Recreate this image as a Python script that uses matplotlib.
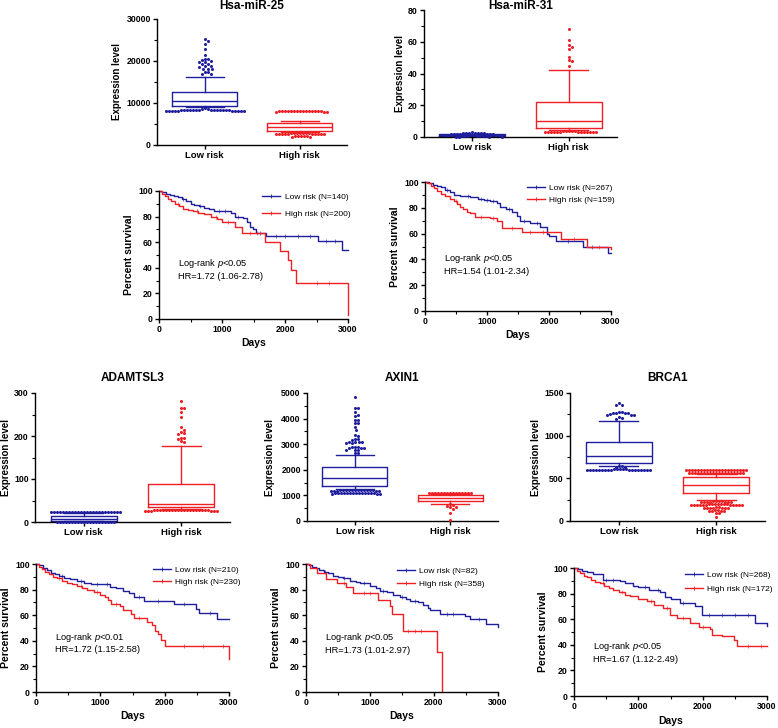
import numpy as np
import matplotlib
matplotlib.use('Agg')
import matplotlib.pyplot as plt
from matplotlib.ticker import MultipleLocator
from matplotlib.lines import Line2D

plt.rcParams['font.family'] = ['Liberation Sans', 'DejaVu Sans']
plt.rcParams['font.weight'] = 'bold'
plt.rcParams['axes.labelweight'] = 'bold'
plt.rcParams['mathtext.fontset'] = 'custom'
plt.rcParams['mathtext.rm'] = 'Liberation Sans:weight=normal'
plt.rcParams['mathtext.it'] = 'Liberation Sans:style=italic:weight=normal'

BLUE = '#1f1f9e'
RED = '#ee2024'

groups = ['Low risk', 'High risk']

# ---- box plot data (10-90 percentile whiskers, points beyond) ----
mir25_low = dict(whislo=8950, q1=9300, med=10500, q3=12500, whishi=16100)
mir25_high = dict(whislo=3150, q1=3400, med=4400, q3=5300, whishi=5800)
mir25_low_pts = [25200, 24700, 24000, 22900, 21400, 20500, 20400, 20300, 19900, 19800, 19700,
                 19300, 19200, 18800, 18700, 18600, 18200, 18100, 18000, 17400, 17300, 16900,
                 16800,
                 8700, 8650, 8600,
                 8450, 8430, 8410, 8400, 8380, 8360, 8350, 8330, 8310, 8300, 8280, 8260, 8250,
                 8230, 8210, 8200, 8180, 8170, 8160, 8150, 8140, 8130, 8120, 8110]
mir25_high_pts = [8120, 8110, 8100, 8090, 8080, 8070, 8060, 8050, 8040, 8030, 8020, 8010,
                  8000, 7990, 7980, 7970, 7960, 7950,
                  2800, 2790, 2780, 2770, 2760, 2750, 2740, 2730, 2720, 2710, 2700, 2690,
                  2680, 2670, 2660, 2650, 2640,
                  2150, 2120, 2100, 2080, 2050, 2020, 2000]

mir31_low = dict(whislo=0.5, q1=0.8, med=1.2, q3=1.6, whishi=2.0)
mir31_high = dict(whislo=4.2, q1=5.5, med=10.3, q3=22.0, whishi=42.5)
mir31_low_pts = [2.9, 2.8, 2.7, 2.7, 2.6, 2.5, 2.4, 2.3, 2.2, 2.1, 2.0, 1.9, 1.8, 1.7, 1.6,
                 1.5, 1.4, 1.3, 1.2, 1.1, 1.0, 0.9, 0.8, 0.7, 0.6, 0.5, 0.4, 0.4, 0.3, 0.2,
                 0.2, 0.1]
mir31_high_pts = [68, 61, 58, 56.5, 55.5, 50.5, 48.5, 48, 44.5,
                  3.6, 3.6, 3.5, 3.5, 3.5, 3.4, 3.4, 3.4, 3.3, 3.3, 3.3, 3.2, 3.2, 3.2, 3.1,
                  3.1, 3.0, 3.0]

adam_low = dict(whislo=1.5, q1=3, med=8, q3=15, whishi=21)
adam_high = dict(whislo=30, q1=34, med=42, q3=88, whishi=177)
adam_low_pts = [24.4, 24.3, 24.2, 24.1, 24.0, 23.9, 23.8, 23.7, 23.6, 23.5, 23.4, 23.3, 23.2,
                23.1, 23.0, 22.9, 22.8, 22.7, 22.6, 22.5, 22.4, 22.3, 22.2, 22.1,
                1.0, 1.0, 0.9, 0.9, 0.8, 0.8, 0.7, 0.7, 0.6, 0.6, 0.5, 0.5, 0.4, 0.4, 0.3,
                0.3, 0.2, 0.2, 0.1, 0.1]
adam_high_pts = [281, 266, 265, 255, 245, 221, 215, 209, 207, 204, 196, 195, 194, 188, 187,
                 28.6, 28.5, 28.4, 28.3, 28.2, 28.1, 28.0, 27.9, 27.8, 27.7, 27.6, 27.5, 27.4,
                 27.3, 27.2, 27.1, 27.0, 26.9, 26.8, 26.7, 26.6, 26.5, 26.4, 26.3, 26.2]

axin_low = dict(whislo=1250, q1=1370, med=1690, q3=2120, whishi=2590)
axin_high = dict(whislo=660, q1=770, med=885, q3=1030, whishi=1060)
axin_low_pts = [4850, 4420, 4400, 4240, 4150, 4100, 3960, 3950, 3840, 3820, 3660, 3550, 3350,
                3330, 3220, 3200, 3180, 3100, 3090, 3080, 3070, 3060, 3050, 2900, 2890, 2880,
                2870, 2860, 2850, 2790, 2780, 2770, 2650, 2640,
                1215, 1213, 1211, 1209, 1207, 1205, 1203, 1201, 1199, 1197, 1195, 1193, 1191,
                1189, 1187, 1185, 1183,
                1102, 1100, 1098, 1096, 1094, 1092, 1090, 1088, 1086, 1084, 1082, 1080, 1078,
                1076, 1074, 1072, 1070]
axin_high_pts = [1104, 1103, 1102, 1101, 1100, 1099, 1098, 1097, 1096, 1095, 1094, 1093, 1092,
                 1091, 1090, 650, 630, 600, 560, 530, 470, 300, 30]

brca_low = dict(whislo=650, q1=684, med=766, q3=926, whishi=1172)
brca_high = dict(whislo=246, q1=325, med=420, q3=512, whishi=547)
brca_low_pts = [1385, 1365, 1362, 1275, 1273, 1271, 1270, 1268, 1266, 1250, 1248, 1246, 1244,
                1215, 1212, 1195,
                640, 639, 638, 637,
                606, 605, 605, 604, 604, 603, 603, 602, 602, 601, 601, 600, 600, 599, 599,
                598, 598, 597, 597, 596, 596, 595]
brca_high_pts = [602, 601, 601, 600, 600, 599, 599, 598, 598, 597, 597, 596, 596, 595, 595,
                 594, 594, 593, 593, 592, 592,
                 566, 565, 565, 564, 564, 563, 563, 562, 562, 561, 561, 560, 560, 559, 559,
                 558, 558, 557, 557,
                 230, 230, 229, 229, 228, 228, 228, 227, 227, 226, 226,
                 196, 196, 195, 195, 194, 194, 194, 193, 193, 192, 192, 191, 191, 190, 190,
                 189, 189, 188,
                 159, 159, 158, 158, 158, 157, 157, 156, 156,
                 124, 124, 123, 123, 122, 122,
                 90, 88, 45]

# ---- Kaplan-Meier data (days, percent survival after each step) ----
k1_low_t = [0, 50, 110, 170, 240, 300, 360, 430, 500, 560, 640, 720, 800, 870, 1150, 1200,
            1340, 1400, 1450, 1490, 1540, 1700, 2520, 2900, 3000]
k1_low_s = [100, 99, 98, 97, 96, 95, 94, 92, 90, 89, 88, 87, 86, 84, 83, 80,
            79, 76, 72, 70, 67, 65, 61, 54, 54]
k1_high_t = [0, 40, 90, 140, 190, 250, 310, 380, 460, 540, 620, 720, 820, 920, 1000, 1200,
             1310, 1690, 1920, 2040, 2090, 2180, 3000]
k1_high_s = [100, 98, 96, 94, 92, 90, 88, 86, 85, 84, 83, 82, 80, 78, 76, 72,
             67, 60, 53, 46, 38, 28, 3]

k2_low_t = [0, 60, 130, 200, 260, 330, 400, 460, 560, 730, 850, 950, 1050, 1160, 1210, 1300,
            1400, 1480, 1530, 1700, 1860, 1960, 2000, 2120, 2550, 2950, 3000]
k2_low_s = [100, 99, 98, 97, 96, 94, 92, 90, 89, 88, 87, 86, 85, 84, 81, 79,
            77, 74, 70, 68, 65, 60, 58, 54, 50, 45, 45]
k2_high_t = [0, 40, 90, 140, 190, 250, 320, 400, 460, 510, 570, 620, 680, 730, 800, 1050,
             1160, 1240, 1560, 2200, 2620, 3000]
k2_high_s = [100, 99, 97, 95, 93, 91, 89, 87, 85, 83, 81, 79, 77, 76, 73, 72,
             70, 64, 61, 56, 50, 48]

k3_low_t = [0, 50, 110, 170, 230, 290, 360, 440, 530, 640, 740, 850, 1000, 1150, 1250, 1360,
            1450, 1520, 1680, 2140, 2480, 2530, 2820, 3000]
k3_low_s = [100, 99, 97, 95, 93, 92, 91, 89, 88, 87, 85, 84, 84, 82, 81, 79,
            77, 74, 71, 69, 65, 62, 57, 57]
k3_high_t = [0, 40, 90, 140, 200, 260, 320, 400, 480, 560, 640, 720, 800, 900, 1000, 1080,
             1120, 1160, 1300, 1360, 1480, 1520, 1720, 1800, 1850, 1900, 1950, 2010, 3000]
k3_high_s = [100, 98, 96, 94, 92, 90, 89, 87, 85, 84, 83, 81, 80, 78, 76, 74,
             72, 69, 67, 64, 61, 58, 55, 52, 48, 45, 41, 36, 26]

k4_low_t = [0, 40, 90, 150, 210, 280, 340, 420, 500, 580, 680, 780, 850, 1000, 1100, 1160,
            1260, 1360, 1470, 1560, 1630, 1750, 1830, 1900, 1940, 2100, 2480, 2560, 2820, 3000]
k4_low_s = [100, 99, 98, 97, 95, 94, 93, 91, 90, 89, 87, 86, 85, 83, 81, 79,
            78, 76, 74, 73, 71, 70, 68, 66, 64, 61, 59, 57, 53, 51]
k4_high_t = [0, 60, 170, 320, 480, 620, 740, 1130, 1310, 1350, 1520, 2040, 2120]
k4_high_s = [100, 97, 93, 88, 85, 82, 77, 72, 67, 61, 48, 31, 0]

k5_low_t = [0, 60, 130, 200, 300, 450, 720, 800, 920, 1000, 1160, 1340, 1420, 1500, 1650,
            1880, 1990, 2820, 3000]
k5_low_s = [100, 99, 98, 97, 95, 91, 90, 88, 86, 85, 83, 81, 77, 76, 73,
            70, 63, 57, 55]
k5_high_t = [0, 40, 100, 160, 200, 260, 320, 400, 470, 540, 610, 700, 800, 870, 1000, 1130,
             1250, 1390, 1490, 1600, 1800, 1950, 2110, 2140, 2300, 2480, 2530, 3000]
k5_high_s = [100, 98, 96, 94, 93, 91, 89, 88, 86, 84, 83, 81, 79, 78, 76, 74,
             71, 69, 63, 61, 57, 54, 52, 48, 47, 44, 39, 39]

# censored observations (days)
k1_low_c = [380, 650, 950, 1050, 1250, 1600, 1850, 2000, 2200, 2400, 2650, 2800]
k1_high_c = [300, 600, 900, 1100, 1450, 1550, 2500, 2700]
k2_low_c = [350, 700, 900, 1000, 1100, 1350, 1600, 1800, 2300, 2700]
k2_high_c = [500, 900, 1100, 1400, 1700, 1900, 2400, 2800]
k3_low_c = [400, 700, 950, 1100, 1600, 1900, 2300, 2700]
k3_high_c = [350, 700, 950, 1250, 1600, 2300, 2600, 2900]
k4_low_c = [300, 600, 900, 1200, 1500, 1700, 2200, 2300, 2700]
k4_high_c = [600, 900, 1000, 1600, 1700, 1800]
k5_low_c = [500, 600, 1100, 1300, 1700, 2100, 2300, 2500, 2700]
k5_high_c = [450, 750, 1200, 1450, 1700, 2000, 2700, 2900]

W, H = 778, 728
fig = plt.figure(figsize=(W / 100, H / 100), dpi=100)


def make_axes(x0, y0, x1, y1):
    ax = fig.add_axes([x0 / W, 1 - y1 / H, (x1 - x0) / W, (y1 - y0) / H])
    for s in ['top', 'right']:
        ax.spines[s].set_visible(False)
    for s in ['left', 'bottom']:
        ax.spines[s].set_linewidth(1.0)
    ax.tick_params(which='major', length=3, width=1.0, labelsize=6.3, pad=1.5)
    ax.tick_params(which='minor', length=2, width=0.8)
    return ax, (x1 - x0), (y1 - y0)


def swarm(values, center, ppx, ppy, d=3.0):
    # beeswarm: each point goes to the nearest free slot beside the centre (pixel space)
    placed = []
    xs = []
    for v in values:
        y = v * ppy
        for k in range(400):
            off = ((k + 1) // 2) * (1 if k % 2 else -1) * d / 2
            if all((off - px) ** 2 + (y - py) ** 2 >= d * d for px, py in placed):
                break
        placed.append((off, y))
        xs.append(center + off / ppx)
    return xs


def box_panel(rect, title, title_y, stats, pts, ymax, major, minor, ylab_x):
    ax, wpx, hpx = make_axes(*rect)
    ppx = wpx / 2.0
    ppy = hpx / ymax
    for i, (st, p, c) in enumerate(zip(stats, pts, [BLUE, RED])):
        ax.bxp([dict(st, fliers=[])], positions=[i + 1], widths=0.68, capwidths=0.4,
               showfliers=False, manage_ticks=False,
               boxprops=dict(color=c, lw=1.0), whiskerprops=dict(color=c, lw=1.0),
               capprops=dict(color=c, lw=1.0), medianprops=dict(color=c, lw=1.0))
        xs = swarm(p, i + 1, ppx, ppy)
        ax.plot(xs, p, 'o', ms=2.2, mew=0, color=c, clip_on=False, zorder=5)
    ax.set_xlim(0.5, 2.5)
    ax.set_ylim(0, ymax)
    ax.set_xticks([1, 2])
    ax.set_xticklabels(groups, fontsize=6.8)
    ax.yaxis.set_major_locator(MultipleLocator(major))
    ax.yaxis.set_minor_locator(MultipleLocator(minor))
    ax.set_ylabel('Expression level', fontsize=7)
    ax.yaxis.set_label_coords(ylab_x, 0.5)
    fig.text((rect[0] + rect[2]) / 2 / W, 1 - title_y / H, title, ha='center', va='center',
             fontsize=8.5, fontweight='bold')
    return ax


def km_panel(rect, curves, labels, leg_xy, leg_sp, note, note_xy, ylab_x, days_gap=19):
    ax, wpx, hpx = make_axes(*rect)
    handles = []
    for (t, s, cens), c in zip(curves, [BLUE, RED]):
        ax.step(t, s, where='post', color=c, lw=1.0, clip_on=False)
        idx = np.searchsorted(t, cens, side='right') - 1
        ax.plot(cens, np.array(s)[idx], '|', ms=2.5, mew=0.6, color=c, alpha=0.7)
        handles.append(Line2D([], [], color=c, lw=1.0, marker='|', ms=2.5, mew=0.6))
    ax.legend(handles, labels, loc='upper left', bbox_to_anchor=leg_xy, frameon=False,
              prop=dict(size=6, weight='normal'), handlelength=2.2, handletextpad=0.5,
              borderpad=0, borderaxespad=0, labelspacing=leg_sp, numpoints=1)
    ax.text(note_xy[0], note_xy[1], note, transform=ax.transAxes, fontsize=6.7,
            fontweight='normal', ha='left', va='center', linespacing=1.25)
    ax.set_xlim(0, 3000)
    ax.set_ylim(0, 100)
    ax.xaxis.set_major_locator(MultipleLocator(1000))
    ax.xaxis.set_minor_locator(MultipleLocator(500))
    ax.yaxis.set_major_locator(MultipleLocator(20))
    ax.yaxis.set_minor_locator(MultipleLocator(10))
    ax.set_ylabel('Percent survival', fontsize=7.5)
    ax.yaxis.set_label_coords(ylab_x, 0.5)
    ax.set_xlabel('Days', fontsize=7.5)
    ax.xaxis.set_label_coords(0.5, -days_gap / hpx)
    return ax


box_panel((157, 19, 347, 145), 'Hsa-miR-25', 6, [mir25_low, mir25_high],
          [mir25_low_pts, mir25_high_pts], 30000, 10000, 5000, -0.184)
box_panel((424, 10, 617, 137), 'Hsa-miR-31', 6, [mir31_low, mir31_high],
          [mir31_low_pts, mir31_high_pts], 80, 20, 10, -0.098)
box_panel((35, 393, 230, 522), 'ADAMTSL3', 378, [adam_low, adam_high],
          [adam_low_pts, adam_high_pts], 300, 100, 50, -0.124)
box_panel((307, 393, 498, 521), 'AXIN1', 378, [axin_low, axin_high],
          [axin_low_pts, axin_high_pts], 5000, 1000, 500, -0.165)
box_panel((570, 393, 765, 521), 'BRCA1', 378, [brca_low, brca_high],
          [brca_low_pts, brca_high_pts], 1500, 500, 250, -0.15)

km_panel((159, 191, 348, 319),
         [(k1_low_t, k1_low_s, k1_low_c), (k1_high_t, k1_high_s, k1_high_c)],
         ['Low risk (N=140)', 'High risk (N=200)'], (0.545, 0.984), 1.1,
         'Log-rank $p$<0.05\nHR=1.72 (1.06-2.78)', (0.099, 0.39), -0.13)
km_panel((425, 182, 611, 311),
         [(k2_low_t, k2_low_s, k2_low_c), (k2_high_t, k2_high_s, k2_high_c)],
         ['Low risk (N=267)', 'High risk (N=159)'], (0.548, 0.984), 0.55,
         'Log-rank $p$<0.05\nHR=1.54 (1.01-2.34)', (0.104, 0.364), -0.134)
km_panel((36, 564, 229, 692),
         [(k3_low_t, k3_low_s, k3_low_c), (k3_high_t, k3_high_s, k3_high_c)],
         ['Low risk (N=210)', 'High risk (N=230)'], (0.606, 0.984), 0.55,
         'Log-rank $p$<0.01\nHR=1.72 (1.15-2.58)', (0.098, 0.387), -0.132)
km_panel((306, 564, 498, 692),
         [(k4_low_t, k4_low_s, k4_low_c), (k4_high_t, k4_high_s, k4_high_c)],
         ['Low risk (N=82)', 'High risk (N=358)'], (0.472, 0.974), 0.6,
         'Log-rank $p$<0.05\nHR=1.73 (1.01-2.97)', (0.099, 0.383), -0.131)
km_panel((574, 568, 767, 696),
         [(k5_low_t, k5_low_s, k5_low_c), (k5_high_t, k5_high_s, k5_high_c)],
         ['Low risk (N=268)', 'High risk (N=172)'], (0.575, 0.977), 0.75,
         'Log-rank $p$<0.05\nHR=1.67 (1.12-2.49)', (0.10, 0.346), -0.137, days_gap=20)

fig.savefig('out.png', dpi=100)
